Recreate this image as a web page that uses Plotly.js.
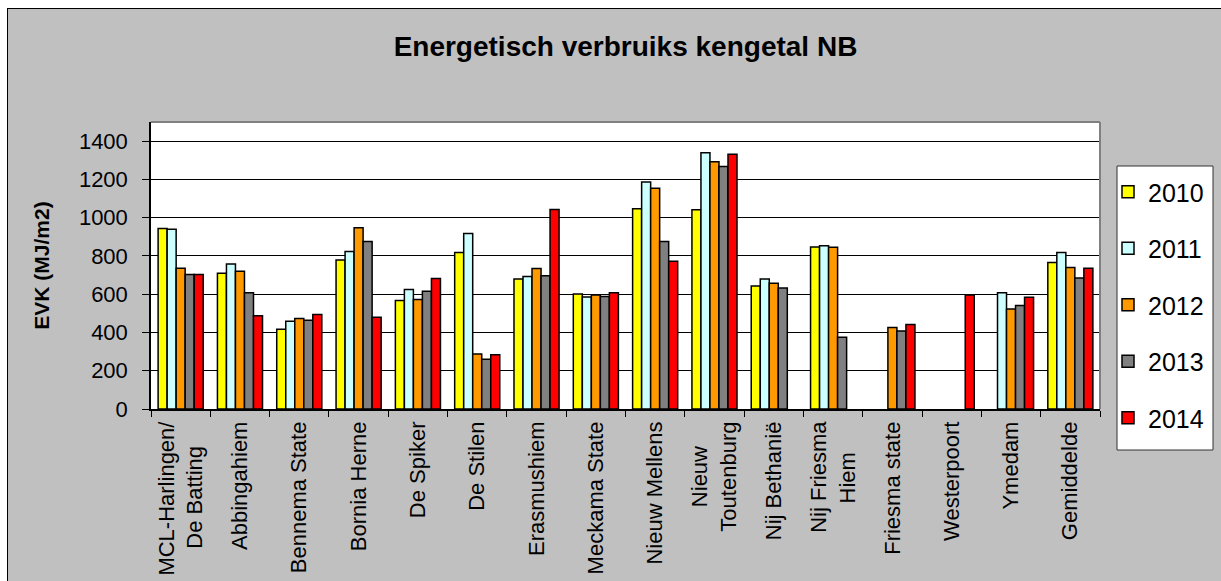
<!DOCTYPE html>
<html>
<head>
<meta charset="utf-8">
<script src="https://cdn.plot.ly/plotly-3.0.1.min.js"></script>
<style>
  html, body { margin: 0; padding: 0; background: #ffffff; overflow: hidden; width: 1221px; height: 581px; }
  #frame { position: absolute; left: 7px; top: 8px; width: 1214px; height: 573px; border-left: 1px solid #000; border-top: 1px solid #000; background: #c0c0c0; }
  #chart { width: 1213px; height: 572px; }
</style>
</head>
<body>
<div id="frame"><div id="chart"></div></div>
<script>
const NB = "\u00A0";
const categories = [
  "MCL-Harlingen/<br>De Batting" + NB.repeat(4), "Abbingahiem", "Bennema State", "Bornia Herne",
  "De Spiker", "De Stilen", "Erasmushiem", "Meckama State", "Nieuw Mellens",
  "Nieuw" + NB.repeat(4) + "<br>Toutenburg", "Nij Bethanië", "Nij Friesma<br>Hiem" + NB.repeat(5), "Friesma state",
  "Westerpoort", "Ymedam", "Gemiddelde"
];
const years = ["2010", "2011", "2012", "2013", "2014"];
const v2010 = [944, 710, 417, 779, 567, 818, 680, 601, 1046, 1041, 643, 847, null, null, null, 766];
const v2011 = [940, 758, 459, 823, 624, 917, 692, 586, 1187, 1339, 680, 853, null, null, 607, 818];
const v2012 = [735, 720, 473, 947, 572, 288, 734, 596, 1154, 1292, 657, 846, 426, null, 523, 740];
const v2013 = [703, 607, 464, 875, 616, 260, 696, 588, 875, 1268, 633, 375, 408, null, 541, 685];
const v2014 = [703, 488, 494, 480, 682, 284, 1043, 607, 772, 1332, null, null, 441, 596, 584, 736];
const series = [v2010, v2011, v2012, v2013, v2014];
const colors = ["#FFFF00", "#CCFFFF", "#FF9900", "#808080", "#FF0000"];
const yTicks = [0, 200, 400, 600, 800, 1000, 1200, 1400];

const font = "Liberation Sans, Arial, sans-serif";

const traces = series.map((vals, i) => ({
  type: "bar",
  name: years[i],
  x: categories,
  y: vals,
  legendgroup: "g" + i,
  marker: { color: colors[i], line: { color: "#000000", width: 1.5 } },
  hoverinfo: "x+y+name"
}));

// plot area spans x 151..1100, y 122..409 in page pixels
const px = (x) => (x - 151) / 949;
const py = (y) => (409 - y) / 287;

const layout = {
  width: 1213,
  height: 572,
  paper_bgcolor: "#c0c0c0",
  plot_bgcolor: "#ffffff",
  margin: { l: 143, r: 121, t: 113, b: 172, pad: 0, autoexpand: false },
  font: { family: font, color: "#000000" },
  title: {
    text: "<b>Energetisch verbruiks kengetal NB</b>",
    font: { family: font, size: 28, color: "#000000" },
    xref: "paper", x: 0.5, xanchor: "center",
    yref: "container", y: 1 - 37 / 572, yanchor: "middle"
  },
  barmode: "group",
  bargap: 0.24,
  bargroupgap: 0,
  xaxis: {
    type: "category",
    tickangle: -90,
    tickfont: { family: font, size: 22, color: "#000000" },
    ticks: "outside",
    tickson: "boundaries",
    ticklen: 6,
    tickcolor: "#000000",
    tickwidth: 1,
    showline: true,
    linecolor: "#000000",
    linewidth: 1.5,
    showgrid: false,
    ticklabelstandoff: 2,
    automargin: false
  },
  yaxis: {
    range: [0, 1500],
    tickvals: yTicks,
    ticktext: yTicks.map(String),
    tickfont: { family: font, size: 22, color: "#000000" },
    ticks: "outside",
    ticklen: 7,
    tickcolor: "#000000",
    tickwidth: 1,
    showline: true,
    linecolor: "#000000",
    linewidth: 1.5,
    showgrid: true,
    gridcolor: "#000000",
    gridwidth: 1,
    zeroline: false,
    ticklabelstandoff: 10,
    automargin: false,
    title: {
      text: "<b>EVK (MJ/m2)</b>",
      font: { family: font, size: 21, color: "#000000" },
      standoff: 24
    }
  },
  showlegend: true,
  legend: {
    x: px(1108),
    xanchor: "left",
    y: py(169),
    yanchor: "top",
    bgcolor: "rgba(0,0,0,0)",
    borderwidth: 0,
    font: { family: font, size: 25, color: "#000000" },
    traceorder: "grouped",
    tracegroupgap: 21,
    itemclick: false
  },
  shapes: [
    { type: "line", xref: "paper", yref: "paper", x0: 0, x1: 1, y0: 1, y1: 1, line: { color: "#808080", width: 2 } },
    { type: "line", xref: "paper", yref: "paper", x0: 1, x1: 1, y0: 0, y1: 1, line: { color: "#808080", width: 2 } },
    { type: "rect", xref: "paper", yref: "paper", x0: px(1117), x1: px(1213), y0: py(450), y1: py(166),
      fillcolor: "#ffffff", line: { color: "#333333", width: 1 }, layer: "below" }
  ]
};

Plotly.newPlot("chart", traces, layout, { displayModeBar: false });
</script>
</body>
</html>
